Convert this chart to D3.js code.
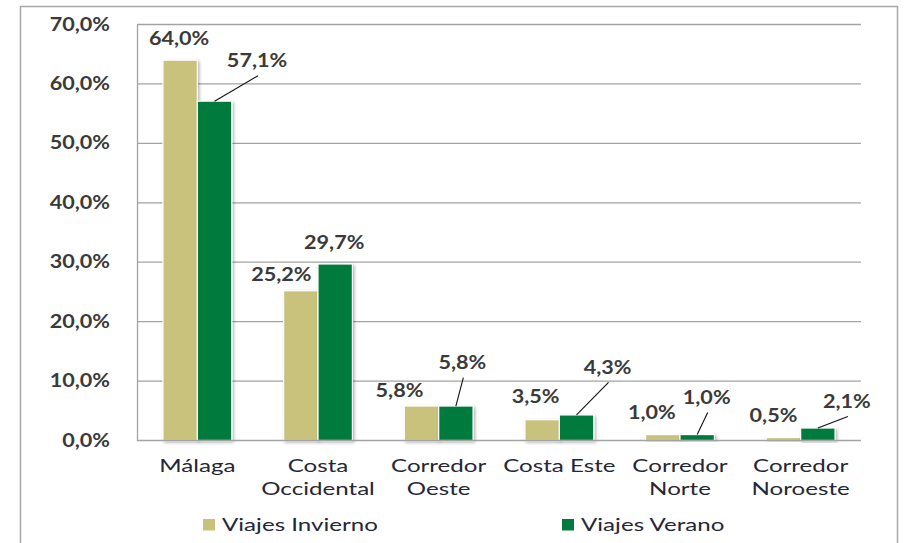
<!DOCTYPE html>
<html>
<head>
<meta charset="utf-8">
<script src="https://cdn.jsdelivr.net/npm/d3@7/dist/d3.min.js"></script>
<style>
  html, body { margin: 0; padding: 0; background: #fff; }
  svg { display: block; }
</style>
</head>
<body>
<svg id="chart" width="904" height="543"></svg>
<script>
// Zonas de destino y cuota de viajes por temporada (%)
const categories = [["Málaga"], ["Costa", "Occidental"], ["Corredor", "Oeste"], ["Costa Este"], ["Corredor", "Norte"], ["Corredor", "Noroeste"]];
const seriesNames = ["Viajes Invierno", "Viajes Verano"];
const invierno = [64.0, 25.2, 5.8, 3.5, 1.0, 0.5];
const verano = [57.1, 29.7, 5.8, 4.3, 1.0, 2.1];
const yTicks = [0, 10, 20, 30, 40, 50, 60, 70];

const colors = ["#C9C27C", "#007A3D"];
const values = [invierno, verano];

// Label placement relative to each bar's top-centre: [dx, dy, leader]
const labelLayout = [
  [[-1, -20, false], [-19.5, -14, false], [-22, -14, false], [-6.5, -21, false], [-11, -20, false], [-10, -20.5, false]],
  [[42.5, -39, true], [-1, -20, false], [6.5, -42, true], [31, -46, true], [9.5, -35.6, true], [29, -25, true]]
];

const fmt = v => d3.format(".1f")(v).replace(".", ",") + "%";

const svg = d3.select("#chart");
const TEXT_SX = 1.42;   // horizontal stretch of the chart lettering
const NUM_SX = 1.2;

const defs = svg.append("defs");
const sh = defs.append("filter").attr("id", "barShadow")
  .attr("x", "-30%").attr("y", "-10%").attr("width", "160%").attr("height", "130%");
sh.append("feDropShadow").attr("dx", 1.5).attr("dy", 1.5).attr("stdDeviation", 1.6)
  .attr("flood-color", "#000").attr("flood-opacity", 0.3);

// outer frame
svg.append("rect")
  .attr("x", 20.5).attr("y", 6.5).attr("width", 877).attr("height", 560)
  .attr("fill", "none").attr("stroke", "#a6a6a6").attr("stroke-width", 1.5);

const plot = { left: 137, right: 861, top: 24.5, bottom: 440.5 };

const x0 = d3.scaleBand()
  .domain(d3.range(categories.length))
  .range([plot.left, plot.right])
  .paddingInner(0.43).paddingOuter(0.215);
const x1 = d3.scaleBand().domain([0, 1]).range([0, x0.bandwidth()]);
const y = d3.scaleLinear().domain([0, 70]).range([plot.bottom, plot.top]);

// gridlines
svg.append("g").selectAll("line").data(yTicks.filter(t => t > 0)).join("line")
  .attr("x1", plot.left).attr("x2", plot.right)
  .attr("y1", d => y(d)).attr("y2", d => y(d))
  .attr("stroke", "#a3a3a3").attr("stroke-width", 1.3);

// y axis with tick labels
const yAxis = svg.append("g")
  .attr("transform", `translate(${plot.left},0)`)
  .call(d3.axisLeft(y).tickValues(yTicks).tickSize(0).tickPadding(0).tickFormat(fmt));
yAxis.select(".domain").attr("stroke", "#a3a3a3").attr("stroke-width", 1.3);
yAxis.selectAll(".tick text")
  .attr("x", 0).attr("dy", 0)
  .attr("transform", `translate(-27,1) scale(${NUM_SX},1)`)
  .attr("dominant-baseline", "middle")
  .attr("font-family", "Lato").attr("font-weight", "bold").attr("font-size", 18)
  .attr("fill", "#3a3a3a").attr("text-anchor", "end");

// bars
const groups = svg.append("g").selectAll("g").data(categories).join("g")
  .attr("transform", (d, i) => `translate(${x0(i)},0)`);
groups.selectAll("rect").data((d, i) => values.map((s, k) => ({ k, v: s[i] }))).join("rect")
  .attr("x", d => x1(d.k)).attr("width", x1.bandwidth())
  .attr("y", d => y(d.v)).attr("height", d => y(0) - y(d.v))
  .attr("fill", d => colors[d.k])
  .attr("stroke", "#fff").attr("stroke-width", 1.2)
  .attr("filter", "url(#barShadow)");

// baseline
svg.append("line")
  .attr("x1", plot.left).attr("x2", plot.right)
  .attr("y1", plot.bottom).attr("y2", plot.bottom)
  .attr("stroke", "#a3a3a3").attr("stroke-width", 1.3);

// value labels with leader lines
const labels = svg.append("g");
values.forEach((s, k) => {
  s.forEach((v, i) => {
    const bx = x0(i) + x1(k) + x1.bandwidth() / 2;
    const by = y(v);
    const [dx, dy, leader] = labelLayout[k][i];
    const lx = bx + dx, ly = by + dy;
    if (leader) {
      labels.append("line")
        .attr("x1", bx).attr("y1", by)
        .attr("x2", lx + 1).attr("y2", ly + 13.5)
        .attr("stroke", "#111").attr("stroke-width", 1.1);
    }
    labels.append("text")
      .attr("transform", `translate(${lx},${ly}) scale(${NUM_SX},1)`)
      .attr("text-anchor", "middle").attr("dominant-baseline", "middle")
      .attr("font-family", "Lato").attr("font-weight", "bold").attr("font-size", 18)
      .attr("fill", "#3a3a3a")
      .text(fmt(v));
  });
});

// category labels
const cat = svg.append("g");
categories.forEach((lines, i) => {
  const cx = x0(i) + x0.bandwidth() / 2;
  lines.forEach((t, j) => {
    cat.append("text")
      .attr("transform", `translate(${cx},${471.5 + j * 23.5}) scale(${TEXT_SX},1)`)
      .attr("text-anchor", "middle")
      .attr("font-family", "Lato").attr("font-size", 17)
      .attr("fill", "#262636")
      .text(t);
  });
});

// legend
const legendX = [203, 562];
const leg = svg.append("g");
seriesNames.forEach((n, k) => {
  leg.append("rect").attr("x", legendX[k]).attr("y", 519).attr("width", 12).attr("height", 11.5)
    .attr("fill", colors[k]);
  leg.append("text")
    .attr("transform", `translate(${legendX[k] + 19},${530.5}) scale(${TEXT_SX},1)`)
    .attr("font-family", "Lato").attr("font-size", 17)
    .attr("fill", "#262636")
    .text(n);
});
</script>
</body>
</html>
